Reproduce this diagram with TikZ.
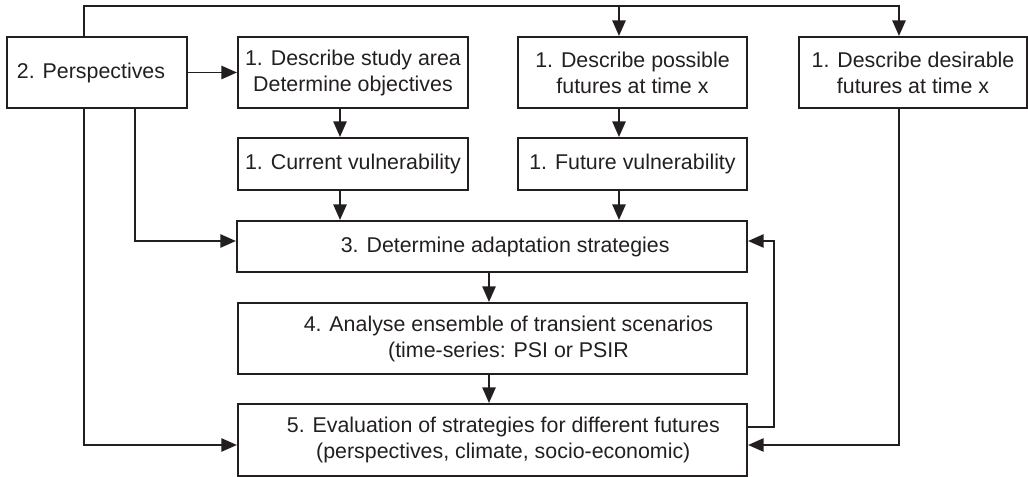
\documentclass[tikz,border=0pt]{standalone}
\usepackage{fontspec}
\setmainfont{Liberation Sans}
\usetikzlibrary{arrows.meta}
\definecolor{ink}{RGB}{35,31,32}
\tikzset{
	box/.style n args={2}{draw=ink, line width=1.4pt, minimum width=#1, minimum height=#2,
		inner sep=0pt, align=center, text=ink, font=\fontsize{15.2}{18.5}\selectfont},
	txt/.style={align=center, text=ink, font=\fontsize{15.2}{18.5}\selectfont},
	link/.style={draw=ink, line width=1.4pt},
	arr/.style={link, -{Triangle[length=3.9mm,width=3.3mm]}}
}

\begin{document}
\begin{tikzpicture}[x=0.025cm, y=-0.025cm]
		%%%%% START %%%%%
		\useasboundingbox (0, 0) rectangle (1028, 477);
		
		% boxes
		\node[box={4.5cm}{1.775cm}, label={[txt, xshift=-0.15cm]center:2. Perspectives}] (persp) at (97, 72.5) {};
		\node[box={5.75cm}{1.775cm}] (area) at (353, 72.5) {1. Describe study area\\Determine objectives};
		\node[box={5.725cm}{1.775cm}] (poss) at (632.5, 72.5) {1. Describe possible\\futures at time x};
		\node[box={5.7cm}{1.775cm}] (desir) at (913, 72.5) {1. Describe desirable\\futures at time x};
		\node[box={5.75cm}{1.3cm}] (curv) at (353, 164) {1. Current vulnerability};
		\node[box={5.725cm}{1.3cm}] (futv) at (632.5, 164) {1. Future vulnerability};
		\node[box={12.75cm}{1.275cm}, label={[txt, xshift=0.33cm]center:3. Determine adaptation strategies}] (strat) at (492, 246.5) {};
		\node[box={12.725cm}{1.775cm}, label={[txt, xshift=0.4cm]center:4. Analyse ensemble of transient scenarios\\(time-series: PSI or PSIR}] (ens) at (492.5, 338.5) {};
		\node[box={12.725cm}{1.8cm}, label={[txt, xshift=0.27cm]center:5. Evaluation of strategies for different futures\\(perspectives, climate, socio-economic)}] (eval) at (492.5, 440) {};
		
		% columns and rows of the connectors
		\coordinate (top) at (0, 6);
		\coordinate (colP) at (84, 0);
		\coordinate (colQ) at (135, 0);
		\coordinate (colA) at (340, 0);
		\coordinate (colM) at (489, 0);
		\coordinate (colB) at (619, 0);
		\coordinate (colF) at (774, 0);
		\coordinate (colC) at (899, 0);
		\coordinate (rowS) at (0, 241);
		\coordinate (rowF) at (0, 427);
		\coordinate (rowE) at (0, 445);
		
		% connectors
		\draw[arr] (persp.north -| colP) -- (top -| colP) -- (top -| colC) -- (desir.north -| colC);
		\draw[arr] (top -| colB) -- (poss.north -| colB);
		\draw[arr] (persp.east) -- (area.west);
		\draw[arr] (area.south -| colA) -- (curv.north -| colA);
		\draw[arr] (poss.south -| colB) -- (futv.north -| colB);
		\draw[arr] (curv.south -| colA) -- (strat.north -| colA);
		\draw[arr] (futv.south -| colB) -- (strat.north -| colB);
		\draw[arr] (persp.south -| colQ) -- (rowS -| colQ) -- (strat.west |- rowS);
		\draw[arr] (strat.south -| colM) -- (ens.north -| colM);
		\draw[arr] (ens.south -| colM) -- (eval.north -| colM);
		\draw[arr] (persp.south -| colP) -- (rowE -| colP) -- (eval.west |- rowE);
		\draw[arr] (desir.south -| colC) -- (rowE -| colC) -- (eval.east |- rowE);
		\draw[arr] (eval.east |- rowF) -- (rowF -| colF) -- (rowS -| colF) -- (strat.east |- rowS);
		%%%%% END %%%%%
\end{tikzpicture}
\end{document}
